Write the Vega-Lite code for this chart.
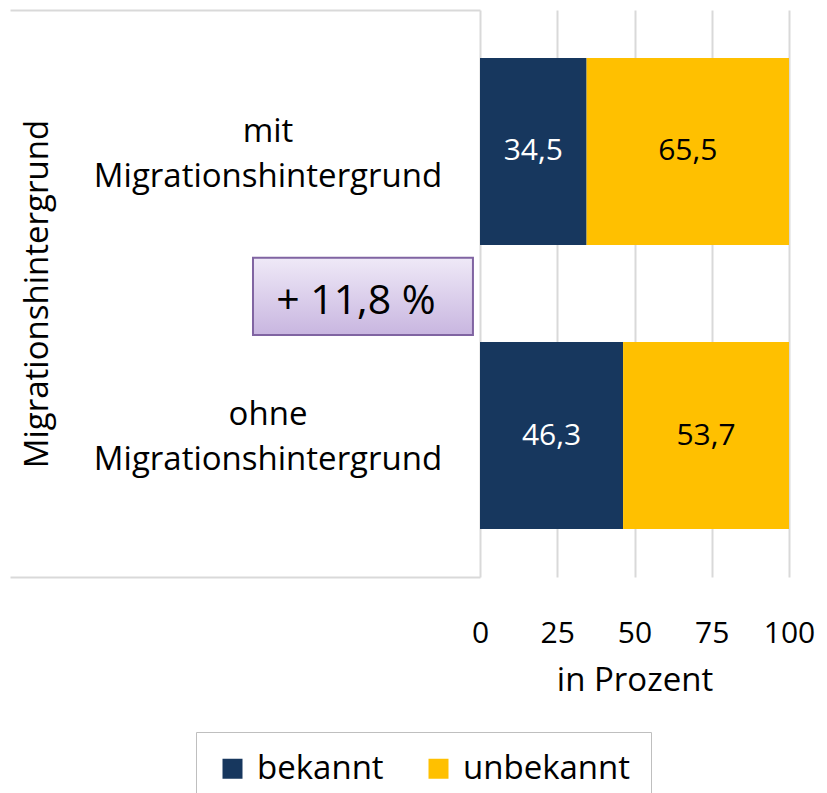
{
  "$schema": "https://vega.github.io/schema/vega-lite/v6.json",
  "padding": {"left": 10, "top": 10, "right": 0, "bottom": 0},
  "bounds": "flush",
  "spacing": 0,
  "config": {
    "font": "Open Sans",
    "view": {"stroke": null},
    "locale": {"number": {"decimal": ",", "thousands": ".", "grouping": [3], "currency": ["", " €"]}}
  },
  "resolve": {"scale": {"y": "independent", "x": "independent"}},
  "hconcat": [
    {
      "width": 470,
      "height": 567,
      "layer": [
        {
          "data": {"values": [
            {"gruppe": "mit", "beschriftung": "mit\nMigrationshintergrund"},
            {"gruppe": "ohne", "beschriftung": "ohne\nMigrationshintergrund"}
          ]},
          "mark": {"type": "text", "fontSize": 33, "lineBreak": "\n", "lineHeight": 45, "align": "center", "baseline": "middle", "dy": -20, "color": "#000000"},
          "encoding": {
            "y": {"field": "gruppe", "type": "nominal", "sort": ["mit", "ohne"],
              "scale": {"paddingInner": 0.342, "paddingOuter": 0.169},
              "axis": {"title": "Migrationshintergrund", "labels": false, "ticks": false, "domain": false, "grid": false,
                "titleFontSize": 33, "titleFontWeight": "normal", "titleColor": "#000000", "titleX": 27, "titleBaseline": "middle"}},
            "x": {"datum": 0.549, "type": "quantitative", "scale": {"domain": [0, 1]},
              "axis": {"orient": "bottom", "domain": true, "domainColor": "#d9d9d9", "domainWidth": 2, "labels": false, "ticks": false, "grid": false, "title": null}},
            "text": {"field": "beschriftung"}
          }
        },
        {
          "data": {"values": [{"differenz": "+ 11,8 %"}]},
          "mark": {"type": "rect", "stroke": "#8064a2", "strokeWidth": 2,
            "fill": {"gradient": "linear", "x1": 0, "y1": 0, "x2": 0, "y2": 1,
              "stops": [{"offset": 0, "color": "#efe9f7"}, {"offset": 1, "color": "#c8b6e0"}]}},
          "encoding": {
            "x": {"datum": 0.517, "type": "quantitative", "scale": {"domain": [0, 1]},
              "axis": {"orient": "top", "domain": true, "domainColor": "#d9d9d9", "domainWidth": 2, "labels": false, "ticks": false, "grid": false, "title": null}},
            "x2": {"datum": 0.985},
            "y": {"datum": 0.563, "type": "quantitative", "scale": {"domain": [0, 1]}, "axis": null},
            "y2": {"datum": 0.427}
          }
        },
        {
          "data": {"values": [{"differenz": "+ 11,8 %"}]},
          "mark": {"type": "text", "fontSize": 41, "align": "center", "baseline": "middle", "color": "#000000"},
          "encoding": {
            "x": {"datum": 0.736, "type": "quantitative", "scale": {"domain": [0, 1]}, "axis": null},
            "y": {"datum": 0.485, "type": "quantitative", "scale": {"domain": [0, 1]}, "axis": null},
            "text": {"field": "differenz"}
          }
        }
      ],
      "resolve": {"scale": {"y": "independent"}, "axis": {"x": "independent", "y": "independent"}}
    },
    {
      "width": 309,
      "height": 567,
      "data": {"values": [
        {"gruppe": "mit", "status": "bekannt", "anteil": 34.5},
        {"gruppe": "mit", "status": "unbekannt", "anteil": 65.5},
        {"gruppe": "ohne", "status": "bekannt", "anteil": 46.3},
        {"gruppe": "ohne", "status": "unbekannt", "anteil": 53.7}
      ]},
      "encoding": {
        "y": {"field": "gruppe", "type": "nominal", "sort": ["mit", "ohne"],
          "scale": {"paddingInner": 0.342, "paddingOuter": 0.169}, "axis": null}
      },
      "layer": [
        {
          "mark": {"type": "bar"},
          "encoding": {
            "x": {"field": "anteil", "type": "quantitative", "stack": "zero", "scale": {"domain": [0, 100]},
              "axis": {"values": [0, 25, 50, 75, 100], "grid": true, "gridColor": "#d9d9d9", "gridWidth": 2, "domain": false, "ticks": false,
                "labelFontSize": 30, "labelColor": "#000000", "labelPadding": 41, "labelFlush": false, "labelOverlap": false,
                "title": "in Prozent", "titleFontSize": 33, "titleFontWeight": "normal", "titleColor": "#000000", "titlePadding": 16}},
            "color": {"field": "status", "type": "nominal",
              "scale": {"domain": ["bekannt", "unbekannt"], "range": ["#17375e", "#ffc000"]},
              "legend": {"orient": "none", "legendX": 186, "legendY": 722, "direction": "horizontal", "title": null,
                "strokeColor": "#bfbfbf", "fillColor": "#ffffff", "padding": 20, "symbolType": "square", "symbolSize": 400,
                "symbolStrokeWidth": 0, "labelFontSize": 33, "labelLimit": 400, "labelColor": "#000000", "columnPadding": 38, "labelOffset": 8}},
            "order": {"field": "status", "sort": "ascending"}
          }
        },
        {
          "mark": {"type": "text", "fontSize": 30, "align": "center", "baseline": "middle"},
          "encoding": {
            "x": {"field": "anteil", "type": "quantitative", "stack": "zero", "bandPosition": 0.5},
            "detail": {"field": "status"},
            "order": {"field": "status", "sort": "ascending"},
            "text": {"field": "anteil", "type": "quantitative", "format": ".1f"},
            "color": {"condition": {"test": "datum.status === 'bekannt'", "value": "#ffffff"}, "value": "#000000"}
          }
        }
      ]
    }
  ]
}
